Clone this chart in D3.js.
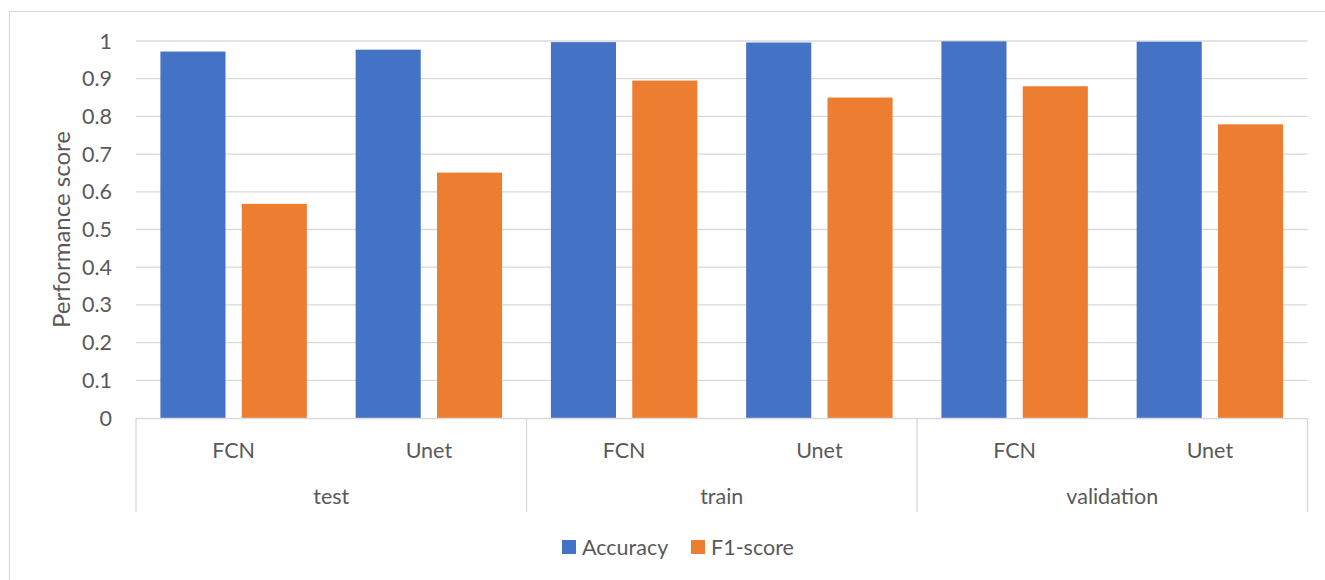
<!DOCTYPE html>
<html>
<head>
<meta charset="utf-8">
<script src="https://cdn.jsdelivr.net/npm/d3@7"></script>
<style>
  body { margin: 0; background: #fff; }
  svg { display: block; font-family: Lato, "Open Sans", sans-serif; }
  text { fill: #595959; }
</style>
</head>
<body>
<svg id="chart" width="1325" height="580"></svg>
<script>
// data
const splits = ["test", "train", "validation"];
const models = ["FCN", "Unet"];
const seriesNames = ["Accuracy", "F1-score"];
const accuracy = [0.972, 0.977, 0.997, 0.996, 0.999, 0.998];
const f1score = [0.568, 0.651, 0.895, 0.850, 0.880, 0.779];
const yTicks = [0, 0.1, 0.2, 0.3, 0.4, 0.5, 0.6, 0.7, 0.8, 0.9, 1];

const colors = ["#4472C4", "#ED7D31"];
const grid = "#d9d9d9";
const fs = 21.5;

// flat list of split/model combos, one per bar group
const combos = [];
splits.forEach(s => models.forEach(m => combos.push({ split: s, model: m, key: s + "|" + m })));
combos.forEach((c, i) => { c.values = [accuracy[i], f1score[i]]; });

const svg = d3.select("#chart");
const plot = { left: 136, right: 1307.5, top: 41, bottom: 418 };

// outer chart border (runs off the right and bottom edges like the source)
svg.append("rect").attr("x", 9.5).attr("y", 11.5).attr("width", 1330).attr("height", 580)
  .attr("fill", "none").attr("stroke", grid).attr("stroke-width", 1.2);

const y = d3.scaleLinear().domain([0, 1]).range([plot.bottom, plot.top]);
const x0 = d3.scaleBand().domain(combos.map(c => c.key)).range([plot.left, plot.right]);
const x1 = d3.scaleBand().domain(seriesNames).range([0, x0.bandwidth()]).paddingInner(0.2).paddingOuter(0.3);
const xs = d3.scaleBand().domain(splits).range([plot.left, plot.right]);

// gridlines
svg.append("g").selectAll("line").data(yTicks.filter(d => d > 0)).join("line")
  .attr("x1", plot.left).attr("x2", plot.right)
  .attr("y1", d => y(d)).attr("y2", d => y(d))
  .attr("stroke", grid).attr("stroke-width", 1.3);

// y tick labels
svg.append("g").selectAll("text").data(yTicks).join("text")
  .attr("x", 112).attr("y", d => y(d)).attr("dy", "0.35em")
  .attr("text-anchor", "end").attr("font-size", fs)
  .text(d => d3.format("~g")(d));

// y axis title
svg.append("text")
  .attr("transform", `translate(70,${(plot.top + plot.bottom) / 2}) rotate(-90)`)
  .attr("text-anchor", "middle").attr("font-size", 24)
  .text("Performance score");

// bars
const groups = svg.append("g").selectAll("g").data(combos).join("g")
  .attr("transform", d => `translate(${x0(d.key)},0)`);
groups.selectAll("rect").data(d => d.values.map((v, i) => ({ name: seriesNames[i], v, i }))).join("rect")
  .attr("x", d => x1(d.name)).attr("width", x1.bandwidth())
  .attr("y", d => y(d.v)).attr("height", d => y(0) - y(d.v))
  .attr("fill", d => colors[d.i]);

// category axis: baseline + split separators
svg.append("line").attr("x1", plot.left).attr("x2", plot.right)
  .attr("y1", plot.bottom + 0.5).attr("y2", plot.bottom + 0.5)
  .attr("stroke", grid).attr("stroke-width", 1.3);
const seps = splits.map(s => xs(s)).concat([plot.right]);
svg.append("g").selectAll("line").data(seps).join("line")
  .attr("x1", d => d).attr("x2", d => d)
  .attr("y1", plot.bottom).attr("y2", 512)
  .attr("stroke", grid).attr("stroke-width", 1.3);

// model labels
svg.append("g").selectAll("text").data(combos).join("text")
  .attr("x", d => x0(d.key) + x0.bandwidth() / 2).attr("y", 450).attr("dy", "0.35em")
  .attr("text-anchor", "middle").attr("font-size", fs)
  .text(d => d.model);

// split labels
svg.append("g").selectAll("text").data(splits).join("text")
  .attr("x", d => xs(d) + xs.bandwidth() / 2).attr("y", 496).attr("dy", "0.35em")
  .attr("text-anchor", "middle").attr("font-size", fs)
  .text(d => d);

// legend
const legendX = [562, 691];
const legend = svg.append("g").selectAll("g").data(seriesNames).join("g")
  .attr("transform", (d, i) => `translate(${legendX[i]},540)`);
legend.append("rect").attr("width", 14).attr("height", 14).attr("fill", (d, i) => colors[i]);
legend.append("text").attr("x", 20).attr("y", 7).attr("dy", "0.35em")
  .attr("font-size", fs).text(d => d);
</script>
</body>
</html>
